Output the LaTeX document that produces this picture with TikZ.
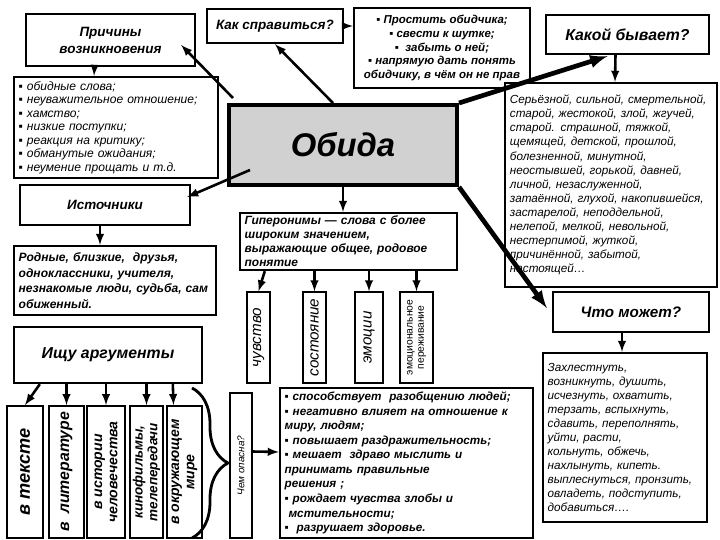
\documentclass[tikz,border=0pt]{standalone}
\usepackage{fontspec}
\setmainfont{Liberation Sans}
\usepackage{tikz}
\usetikzlibrary{positioning,calc,decorations.pathreplacing}

\newcommand{\fhead}{\fontsize{11.5}{14.5}\selectfont\bfseries\itshape}
\newcommand{\fbig}{\fontsize{13.5}{15}\selectfont\bfseries\itshape}
\newcommand{\flist}{\fontsize{10.3}{11.5}\selectfont\itshape}
\newcommand{\fbold}{\fontsize{9.8}{11.7}\selectfont\bfseries\itshape}
\newcommand{\fadj}{\fontsize{10}{12}\selectfont\itshape}
\newcommand{\frod}{\fontsize{10.3}{13.2}\selectfont\bfseries\itshape}
\newcommand{\fhyp}{\fontsize{10.2}{12}\selectfont\bfseries\itshape}
\newcommand{\fdang}{\fontsize{10}{12.4}\selectfont\bfseries\itshape}
\newcommand{\fobida}{\fontsize{28}{32}\selectfont\bfseries\itshape}

\begin{document}
\begin{tikzpicture}[x=0.03cm, y=-0.03cm,
    box/.style={rectangle, draw=black, line width=2pt, fill=white, inner sep=2pt, align=center},
    listbox/.style={box, align=left, inner xsep=4pt},
    vbox/.style={rectangle, draw=black, line width=1.2pt, fill=white, rotate=90, align=center, inner sep=1pt},
    argbox/.style={vbox, line width=1.6pt, minimum width=3.96cm},
    line/.style={draw, -latex, line width=2.2pt, color=black},
    bigline/.style={line, line width=4pt}
]
    \useasboundingbox (0,0) rectangle (720,540);

    % Top row
    \node [box, minimum width=5.07cm, minimum height=1.56cm, font=\fhead] (prich) at (110.5,40) {Причины\\возникновения};
    \node [box, minimum width=4.08cm, minimum height=1.02cm, font=\fhead] (kak) at (275,26) {Как справиться?};
    \node [box, minimum width=5.28cm, minimum height=2.4cm, font=\fbold] (prostit) at (442,48) {▪ Простить обидчика;\\▪ свести к шутке;\\▪ \ забыть о ней;\\▪ напрямую дать понять\\обидчику, в чём он не прав};
    \node [box, minimum width=4.89cm, minimum height=1.17cm, font=\fbig] (kakoy) at (627.5,34.5) {Какой бывает?};

    % Causes and the centre
    \node [listbox, text width=5.84cm, minimum height=3.03cm, font=\flist] (causes) at (116,127.5) {▪ обидные слова;\\▪ неуважительное отношение;\\▪ хамство;\\▪ низкие поступки;\\▪ реакция на критику;\\▪ обманутые ожидания;\\▪ неумение прощать и т.д.};
    \node [box, fill=black!18, line width=3.4pt, minimum width=6.84cm, minimum height=2.4cm, font=\fobida] (obida) at (343,145) {Обида};
    \node [listbox, text width=6.06cm, minimum height=6.12cm, font=\fadj] (adj) at (611,185) {Серьёзной, сильной, смертельной,\\старой, жестокой, злой, жгучей,\\старой. страшной, тяжкой,\\щемящей, детской, прошлой,\\болезненной, минутной,\\неостывшей, горькой, давней,\\личной, незаслуженной,\\затаённой, глухой, накопившейся,\\застарелой, неподдельной,\\нелепой, мелкой, невольной,\\нестерпимой, жуткой,\\причинённой, забытой,\\настоящей…};

    % Sources
    \node [box, minimum width=5.1cm, minimum height=1.2cm, font=\fhead] (istoch) at (105,205) {Источники};
    \node [listbox, text width=5.78cm, minimum height=2.07cm, font=\frod] (rodnye) at (115,280.5) {Родные, близкие, \ друзья,\\одноклассники, учителя,\\незнакомые люди, судьба, сам\\обиженный.};
    \node [box, minimum width=5.64cm, minimum height=1.68cm, font=\fbig] (ishu) at (108,355) {Ищу аргументы};

    % Hyperonyms
    \node [listbox, text width=6.23cm, minimum height=1.71cm, font=\fhyp] (hyper) at (348.5,241.5) {Гиперонимы — слова с более\\широким значением,\\выражающие общее, родовое\\понятие};
    \node [vbox, minimum width=2.73cm, minimum height=0.69cm, font=\fontsize{13}{14}\selectfont\itshape] (chuv) at (258.5,337.5) {чувство};
    \node [vbox, minimum width=2.73cm, minimum height=0.69cm, font=\fontsize{13}{14}\selectfont\itshape] (sost) at (314.5,337.5) {состояние};
    \node [vbox, minimum width=2.73cm, minimum height=0.84cm, font=\fontsize{13}{14}\selectfont\itshape] (emoc) at (369,337.5) {эмоции};
    \node [vbox, minimum width=2.73cm, minimum height=0.99cm, font=\fontsize{8.8}{9.5}\selectfont] (perezh) at (416.5,337.5) {эмоциональное\\переживание};

    % What it can do
    \node [box, minimum width=4.68cm, minimum height=1.2cm, font=\fontsize{13}{14}\selectfont\bfseries\itshape] (chto) at (631,312) {Что может?};
    \node [listbox, text width=4.64cm, minimum height=5.07cm, font=\fadj] (verbs) at (625,437.5) {Захлестнуть,\\возникнуть, душить,\\исчезнуть, охватить,\\терзать, вспыхнуть,\\сдавить, переполнять,\\уйти, расти,\\кольнуть, обжечь,\\нахлынуть, кипеть.\\выплеснуться, пронзить,\\овладеть, подступить,\\добавиться….};

    % Danger
    \node [vbox, minimum width=4.35cm, minimum height=0.66cm, font=\fontsize{8.5}{10}\selectfont\itshape] (chem) at (241,465.5) {Чем опасна?};
    \node [listbox, text width=7.31cm, minimum height=4.5cm, font=\fdang] (danger) at (406.5,463) {▪ способствует \ разобщению людей;\\▪ негативно влияет на отношение к\\миру, людям;\\▪ повышает раздражительность;\\▪ мешает \ здраво мыслить и\\принимать правильные\\решения ;\\▪ рождает чувства злобы и\\\ мстительности;\\▪ \ разрушает здоровье.};

    % Arguments
    \node [argbox, minimum height=1.08cm, font=\fontsize{15.5}{17}\selectfont\bfseries\itshape] (tekst) at (25,472) {в тексте};
    \node [argbox, minimum height=1.05cm, font=\fontsize{13.5}{15}\selectfont\bfseries\itshape] (lit) at (66.5,472) {в \ литературе};
    \node [argbox, minimum height=1.14cm, font=\fontsize{12}{13}\selectfont\bfseries\itshape] (ist) at (106,472) {в истории\\человечества};
    \node [argbox, minimum height=0.99cm, font=\fontsize{11.5}{12.5}\selectfont\bfseries\itshape] (kino) at (146.5,472) {кинофильмы,\\телепередачи};
    \node [argbox, minimum height=1.05cm, font=\fontsize{12}{13}\selectfont\bfseries\itshape] (mir) at (184.5,472) {в окружающем\\мире};

    \coordinate (bt) at (192,388);
    \coordinate (bb) at (192,538);
    \draw [line width=2.4pt, decorate, decoration={brace, amplitude=1.08cm}] (bt) -- (bb);

    % Routing
    \path [line] ($(obida.north west)+(6,-5)$) -- ($(prich.east)+(-15,5)$);
    \path [line] ($(obida.north)+(-10,0)$) -- (kak.south);
    \path [line] ($(obida.south west)+(23,-17)$) -- ($(istoch.east)+(-4,-8)$);
    \path [bigline] (obida.north east) -- ($(kakoy.south)+(-20,1)$);
    \path [bigline] (obida.south east) -- ($(chto.west)+(-5,-4)$);
    \path [line] (obida.south) -- (obida.south |- hyper.north);

    \path [line] ($(prich.south)+(-16,0)$) -- ($(causes.north)+(-22,0)$);
    \path [line] (kak.east) -- (kak.east -| prostit.west);
    \path [line] ($(kakoy.south)+(-12,0)$) -- ($(adj.north)+(4,0)$);
    \path [line] ($(istoch.south)+(-5,0)$) -- ($(rodnye.north)+(-15,0)$);
    \path [line] ($(chto.south)+(-9,0)$) -- ($(verbs.north)+(-3,0)$);

    \path [line] ($(hyper.south west)+(26,0)$) -- (chuv.east);
    \path [line] (sost.east |- hyper.south) -- (sost.east);
    \path [line] (emoc.east |- hyper.south) -- (emoc.east);
    \path [line] (perezh.east |- hyper.south) -- (perezh.east);

    \path [line] ($(ishu.south west)+(27,0)$) -- (tekst.east);
    \path [line] (lit.east |- ishu.south) -- (lit.east);
    \path [line] (ist.east |- ishu.south) -- (ist.east);
    \path [line] (kino.east |- ishu.south) -- (kino.east);
    \path [line] ($(ishu.south west)+(160,0)$) -- ($(mir.east)+(-11,0)$);

    \path [line] ($(chem.south)+(0,-14)$) -- ($(danger.west)+(0,-11)$);
\end{tikzpicture}
\end{document}
